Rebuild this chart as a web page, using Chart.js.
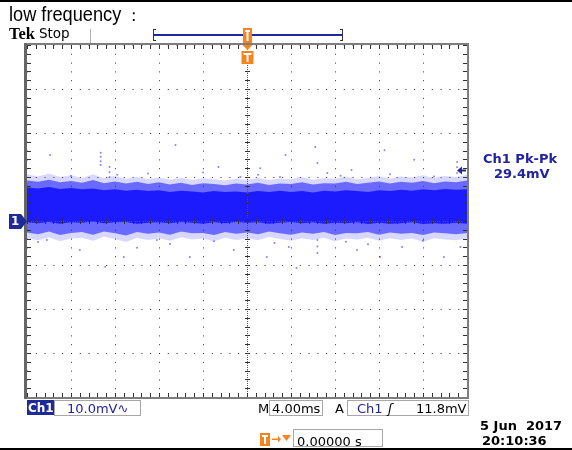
<!DOCTYPE html>
<html>
<head>
<meta charset="utf-8">
<script src="https://cdn.jsdelivr.net/npm/chart.js@4.4.1/dist/chart.umd.min.js"></script>
<style>
  body { margin: 0; background: #fff; }
  #wrap { position: relative; width: 572px; height: 450px; overflow: hidden; font-family: "DejaVu Sans", sans-serif; font-size: 13px; }
  #wrap canvas { position: absolute; left: 0; top: 0; }
  .t { position: absolute; white-space: pre; line-height: 1; }
  .box { position: absolute; border: 1px solid #a8a8a8; box-sizing: border-box; }
  .navy { color: #23239e; }
</style>
</head>
<body>
<div id="wrap">
  <canvas id="scope" width="572" height="450"></canvas>

  <div class="t" style="left:9px; top:3.5px; font-family:'Liberation Sans',sans-serif; font-size:20px; transform:scaleX(0.91); transform-origin:left top;">low frequency<span style="margin-left:5px; font-size:17px;">：</span></div>
  <div class="t" style="left:9px; top:26px; font-family:'Liberation Serif',serif; font-weight:bold; font-size:16.5px;">Tek</div>
  <div class="t" style="left:39px; top:26.5px; font-size:13.5px;">Stop</div>

  <div class="t navy" style="left:483px; top:151.5px; font-weight:bold;">Ch1 Pk-Pk</div>
  <div class="t navy" style="left:494px; top:166.5px; font-weight:bold;">29.4mV</div>

  <div class="box" style="left:27px; top:400px; width:27px; height:15px; background:#1e2a96; border-color:#1e2a96;"></div>
  <div class="t" style="left:28px; top:401.5px; color:#fff; font-weight:bold; font-size:12px;">Ch1</div>
  <div class="box" style="left:54px; top:400px; width:87px; height:16px;"></div>
  <div class="t navy" style="left:67px; top:401.5px;">10.0mV∿</div>

  <div class="t" style="left:258px; top:401.5px;">M</div>
  <div class="box" style="left:269px; top:400px; width:54px; height:16px;"></div>
  <div class="t" style="left:272px; top:401.5px;">4.00ms</div>
  <div class="t" style="left:335px; top:401.5px;">A</div>
  <div class="box" style="left:347px; top:400px; width:122px; height:16px;"></div>
  <div class="t navy" style="left:357px; top:401.5px;">Ch1</div>
  <div class="t" style="left:388px; top:401.5px; font-style:italic;">ʃ</div>
  <div class="t" style="left:416px; top:401.5px;">11.8mV</div>

  <div class="box" style="left:293px; top:429px; width:90px; height:18px;"></div>
  <div class="t" style="left:297px; top:434.5px;">0.00000 s</div>

  <div class="t" style="left:480px; top:418.5px; font-weight:bold;">5 Jun  2017</div>
  <div class="t" style="left:482px; top:433.5px; font-weight:bold;">20:10:36</div>
</div>

<script>
// Tek scope capture, Ch1 noise, 10 mV/div, 4 ms/div, trigger centred

const timeMs = [-20,-19,-18,-17,-16,-15,-14,-13,-12,-11,-10,-9,-8,-7,-6,-5,-4,-3,-2,-1,0,
                1,2,3,4,5,6,7,8,9,10,11,12,13,14,15,16,17,18,19,20];

// dense (solid) part of the noise band, mV
const coreTop = [7.6,7.4,7.7,7.3,7.5,7.2,7.4,7.0,7.2,6.9,7.1,6.8,7.0,6.6,6.9,6.7,6.5,6.8,6.6,6.7,6.5,
                 6.8,6.6,6.9,6.6,6.8,6.5,6.9,6.7,7.0,6.8,6.6,7.0,6.8,7.1,6.9,7.2,7.0,7.3,7.1,7.2];
const coreBottom = [-0.3,-0.5,-0.2,-0.6,-0.3,-0.4,-0.1,-0.5,-0.3,-0.2,-0.6,-0.4,-0.3,-0.5,-0.2,-0.4,-0.6,-0.3,-0.5,-0.2,-0.4,
                    -0.3,-0.6,-0.4,-0.2,-0.5,-0.3,-0.6,-0.4,-0.5,-0.3,-0.7,-0.4,-0.6,-0.5,-0.3,-0.7,-0.5,-0.6,-0.4,-0.6];

// speckled edge of the band, mV
const outerTop = [9.2,8.9,9.4,8.8,9.1,8.7,9.3,8.6,9.0,8.5,8.9,8.4,8.8,8.3,8.7,8.2,8.6,8.4,8.1,8.5,8.3,
                  8.7,8.2,8.5,8.4,8.8,8.3,8.6,8.5,8.9,8.4,8.7,9.0,8.5,8.9,8.7,9.1,8.6,9.0,8.8,9.2];
const outerBottom = [-2.6,-3.0,-2.4,-3.2,-2.7,-2.5,-3.1,-2.4,-2.8,-3.3,-2.5,-2.9,-2.6,-3.1,-2.4,-2.8,-2.7,-3.2,-2.5,-2.9,-2.6,
                     -3.0,-2.4,-2.8,-3.1,-2.6,-2.9,-2.5,-3.2,-2.7,-2.8,-2.5,-3.1,-2.6,-2.9,-2.7,-3.2,-2.6,-2.8,-3.0,-2.7];

// sparse speckle just outside the band, mV
const faintTop = [10.6,10.1,10.8,10.0,10.4,9.8,10.6,9.7,10.2,9.6,10.0,9.5,9.9,9.4,9.8,9.3,9.7,9.5,9.2,9.6,9.4,
                  9.8,9.3,9.6,9.5,10.0,9.4,9.7,9.6,10.1,9.5,9.8,10.2,9.6,10.1,9.9,10.4,9.8,10.2,10.0,10.5];
const faintBottom = [-3.9,-4.4,-3.7,-4.6,-4.0,-3.8,-4.5,-3.6,-4.1,-4.8,-3.8,-4.3,-3.9,-4.5,-3.7,-4.2,-4.0,-4.6,-3.8,-4.3,-3.9,
                     -4.4,-3.6,-4.1,-4.5,-3.9,-4.3,-3.8,-4.6,-4.0,-4.2,-3.8,-4.5,-3.9,-4.3,-4.0,-4.7,-3.9,-4.2,-4.4,-4.0];

// isolated spikes outside the band
const spikeT = [-17.9,-13.3,-13.3,-13.3,-13.3,-12.5,-12.5,-12.5,-6.5,-2.6,-11.8,-0.6,
                -15.2,-12.9,-10.0,-8.2,-5.2,-1.2,-18.2,-11.2,
                6.2,3.5,1.2,6.4,7.3,9.5,12.5,15.2,19.1,19.1,19.1,3.0,
                3.8,6.4,6.4,6.4,10.0,12.1,14.1,17.9,1.8,19.4,4.5,
                -16,-9,-4,1,8.5,13,17,-19,-7,-3,2.5,9,11,16];
const spikeV = [15.0,15.5,14.6,13.6,12.7,12.3,11.1,10.0,17.3,12.3,10.5,10.0,
                -6.6,-10.4,-6.1,-4.3,-8.2,-6.6,-4.3,-8.2,
                16.8,15.0,12.0,13.2,10.9,11.6,16.1,13.9,13.4,12.2,10.9,10.0,
                -5.9,-4.3,-5.8,-7.3,-6.6,-8.2,-5.9,-8.2,-8.2,-5.9,-10.7,
                10.2,10.8,11.0,10.5,10.3,10.6,10.1,-4.8,-5.2,-4.6,-5.0,-4.7,-5.3,-4.5];

const pkPkMarker = 11.6; // mV, level of the measurement arrow on the right

const orange = '#f7831f';
const navy = '#1e2a96';

function toPoints(ys) {
    return timeMs.map((t, i) => ({x: t, y: ys[i]}));
}

function band(top, bottom, colour) {
    return [
        {data: toPoints(top), borderWidth: 0, pointRadius: 0, backgroundColor: colour, fill: '+1'},
        {data: toPoints(bottom), borderWidth: 0, pointRadius: 0, fill: false}
    ];
}

function tIcon(ctx, x, y, w, h) {
    ctx.fillStyle = orange;
    ctx.fillRect(x, y, w, h);
    ctx.fillStyle = '#fff';
    ctx.fillRect(x + 2, y + 2, w - 4, 2);
    ctx.fillRect(x + w / 2 - 1, y + 2, 2, h - 4);
}

const scopeDecor = {
    id: 'scopeDecor',
    afterDraw(chart) {
        const {ctx, chartArea: a, scales: {x, y}} = chart;
        ctx.save();

        // centre cross with minor ticks
        const cx = Math.round(x.getPixelForValue(0)) + 0.5;
        const cy = Math.round(y.getPixelForValue(0)) + 0.5;
        ctx.strokeStyle = '#555';
        ctx.lineWidth = 1;
        ctx.setLineDash([1, 1]);
        ctx.beginPath();
        ctx.moveTo(cx, a.top); ctx.lineTo(cx, a.bottom);
        ctx.moveTo(a.left, cy); ctx.lineTo(a.right, cy);
        ctx.stroke();
        ctx.setLineDash([]);
        ctx.strokeStyle = '#333';
        ctx.beginPath();
        for (let t = -20; t <= 20.001; t += 0.8) {
            const px = Math.round(x.getPixelForValue(t)) + 0.5;
            ctx.moveTo(px, cy - 2.5); ctx.lineTo(px, cy + 2.5);
            ctx.moveTo(px, a.top); ctx.lineTo(px, a.top + 4);
            ctx.moveTo(px, a.bottom); ctx.lineTo(px, a.bottom - 4);
        }
        for (let v = -40; v <= 40.001; v += 2) {
            const py = Math.round(y.getPixelForValue(v)) + 0.5;
            ctx.moveTo(cx - 2.5, py); ctx.lineTo(cx + 2.5, py);
            ctx.moveTo(a.left, py); ctx.lineTo(a.left + 4, py);
            ctx.moveTo(a.right, py); ctx.lineTo(a.right - 4, py);
        }
        ctx.stroke();

        // frame
        ctx.fillStyle = '#7d7d7d';
        ctx.fillRect(a.left - 2, a.top - 2, a.right - a.left + 4, 2);
        ctx.fillRect(a.left - 2, a.bottom, a.right - a.left + 4, 2);
        ctx.fillStyle = '#666';
        ctx.fillRect(a.left - 3, a.top - 2, 3, a.bottom - a.top + 4);
        ctx.fillStyle = '#7d7d7d';
        ctx.fillRect(a.right, a.top - 2, 2, a.bottom - a.top + 4);

        // top status row: separator and record bar
        ctx.fillStyle = '#b0b0b0';
        ctx.fillRect(90, 29, 1, 14);
        ctx.fillStyle = navy;
        ctx.fillRect(154, 34, 188, 2);
        ctx.fillStyle = '#333';
        ctx.fillRect(153, 29, 1, 12); ctx.fillRect(153, 29, 3, 1); ctx.fillRect(153, 40, 3, 1);
        ctx.fillRect(342, 29, 1, 12); ctx.fillRect(340, 29, 3, 1); ctx.fillRect(340, 40, 3, 1);
        tIcon(ctx, cx - 4.5, 28, 9, 15);

        // trigger position marker under top edge
        ctx.fillStyle = orange;
        ctx.beginPath();
        ctx.moveTo(cx - 5, a.top); ctx.lineTo(cx + 5, a.top); ctx.lineTo(cx, a.top + 5);
        ctx.fill();
        tIcon(ctx, cx - 6, a.top + 6, 12, 13);

        // channel 1 ground marker
        ctx.fillStyle = navy;
        ctx.beginPath();
        ctx.moveTo(9, cy - 7.5); ctx.lineTo(21, cy - 7.5); ctx.lineTo(27, cy);
        ctx.lineTo(21, cy + 7.5); ctx.lineTo(9, cy + 7.5);
        ctx.closePath();
        ctx.fill();
        ctx.fillStyle = '#fff';
        ctx.font = 'bold 12px "DejaVu Sans"';
        ctx.textBaseline = 'middle';
        ctx.fillText('1', 11, cy + 0.5);

        // Pk-Pk measurement arrow
        const my = Math.round(y.getPixelForValue(pkPkMarker)) + 0.5;
        ctx.beginPath();
        ctx.moveTo(a.right - 10, my); ctx.lineTo(a.right - 5, my - 4); ctx.lineTo(a.right - 5, my + 4);
        ctx.closePath();
        ctx.fillStyle = navy;
        ctx.fill();
        ctx.fillRect(a.right - 5, my - 1, 4, 2);

        // trigger offset icon in bottom row
        tIcon(ctx, 260, 433, 10, 13);
        ctx.fillStyle = orange;
        ctx.fillRect(272, 438.5, 6, 1.5);
        ctx.beginPath();
        ctx.moveTo(278, 436); ctx.lineTo(281, 439.2); ctx.lineTo(278, 442.5); ctx.fill();
        ctx.beginPath();
        ctx.moveTo(282, 435); ctx.lineTo(291, 435); ctx.lineTo(286.5, 441); ctx.fill();

        // black rules at top and bottom of the capture
        ctx.fillStyle = '#000';
        ctx.fillRect(0, 0, 572, 2);
        ctx.fillRect(0, 448, 572, 2);
        ctx.restore();
    }
};

const ctx = document.getElementById('scope');

new Chart(ctx, {
    type: 'line',
    data: {
        datasets: [
            ...band(faintTop, faintBottom, 'rgba(60,60,255,0.2)'),
            ...band(outerTop, outerBottom, 'rgba(25,25,255,0.6)'),
            ...band(coreTop, coreBottom, 'rgb(12,12,252)'),
            {
                type: 'scatter',
                data: spikeT.map((t, i) => ({x: t, y: spikeV[i]})),
                pointRadius: 1,
                pointBorderWidth: 0,
                pointBackgroundColor: 'rgba(50,50,255,0.6)'
            }
        ]
    },
    options: {
        responsive: false,
        animation: false,
        events: [],
        layout: {
            padding: {left: 27, top: 45, right: 105, bottom: 53}
        },
        scales: {
            x: {
                type: 'linear',
                min: -20,
                max: 20,
                ticks: {display: false, stepSize: 4},
                grid: {color: '#333', lineWidth: 1, drawTicks: false, z: 1},
                border: {display: false, dash: [1, 7.8]}
            },
            y: {
                min: -40,
                max: 40,
                ticks: {display: false, stepSize: 10},
                grid: {color: '#333', lineWidth: 1, drawTicks: false, z: 1},
                border: {display: false, dash: [1, 7.8]}
            }
        },
        plugins: {
            legend: {display: false},
            tooltip: {enabled: false}
        }
    },
    plugins: [scopeDecor]
});
</script>
</body>
</html>
